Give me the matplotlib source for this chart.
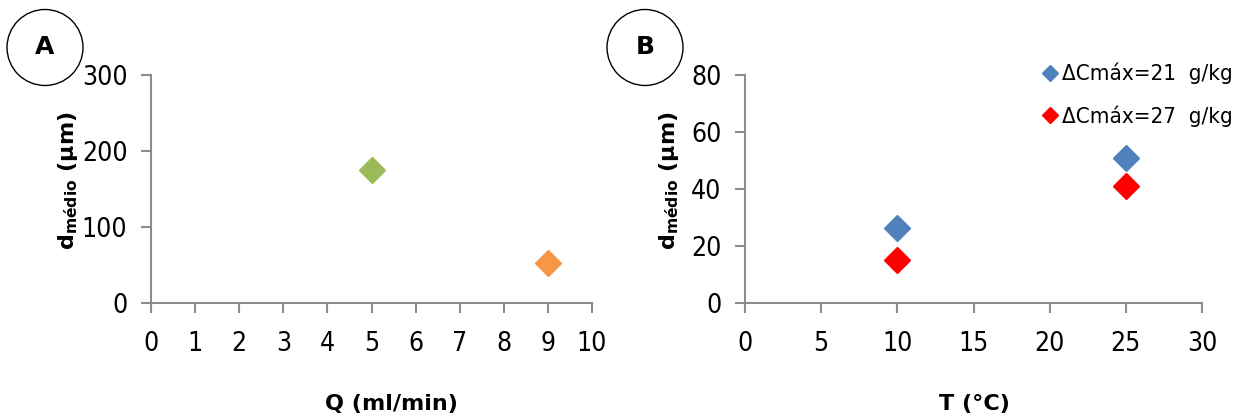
import matplotlib
matplotlib.use("Agg")
import matplotlib.pyplot as plt
from matplotlib.patches import Ellipse

# Data
qA = [5, 9]
dA = [175, 52]
colorsA = ["#9BBB59", "#F79646"]

tB = [10, 25]
d21 = [26.3, 50.8]
d27 = [15.2, 41.1]
labels = ["ΔCmáx=21  g/kg", "ΔCmáx=27  g/kg"]

xticksA = list(range(0, 11))
yticksA = [0, 100, 200, 300]
xticksB = [0, 5, 10, 15, 20, 25, 30]
yticksB = [0, 20, 40, 60, 80]

plt.rcParams['font.family'] = ['DejaVu Sans']
plt.rcParams['font.stretch'] = 'condensed'
gray = "#8C8C8C"

fig = plt.figure(figsize=(12.4, 4.19), dpi=100)
axA = fig.add_axes([151/1240, 1-303/419, (592-151)/1240, (303-75)/419])
axB = fig.add_axes([745/1240, 1-303/419, (1202-745)/1240, (303-75)/419])

def style(ax):
    for s in ['top', 'right']:
        ax.spines[s].set_visible(False)
    for s in ['left', 'bottom']:
        ax.spines[s].set_color(gray)
        ax.spines[s].set_linewidth(1.5)
    ax.tick_params(axis='both', direction='out', length=7, width=1.5, color=gray,
                   labelsize=19)
    ax.tick_params(axis='x', pad=13)
    ax.tick_params(axis='y', pad=10)

for x, y, c in zip(qA, dA, colorsA):
    axA.plot([x], [y], marker='D', ms=13, color=c, ls='none', clip_on=False)
axA.set_xlim(0, 10)
axA.set_ylim(0, 300)
axA.set_xticks(xticksA)
axA.set_yticks(yticksA)
style(axA)

axB.plot(tB, d21, marker='D', ms=13, color="#4F81BD", ls='none', label=labels[0])
axB.plot(tB, d27, marker='D', ms=13, color="#FF0000", ls='none', label=labels[1])
axB.set_xlim(0, 30)
axB.set_ylim(0, 80)
axB.set_xticks(xticksB)
axB.set_yticks(yticksB)
style(axB)

ylab = 'd$_{\\mathregular{médio}}$ (μm)'
for xc in (68, 669):
    fig.text(xc/1240, 1-181/419, ylab, rotation=90, ha='center', va='center',
             fontsize=16, fontweight='bold', fontstretch='normal')
fig.text(391/1240, 1-404/419, 'Q (ml/min)', ha='center', va='center',
         fontsize=16, fontweight='bold', fontstretch='normal')
fig.text(974/1240, 1-404/419, 'T (°C)', ha='center', va='center',
         fontsize=16, fontweight='bold', fontstretch='normal')

leg = axB.legend(loc='center left', bbox_to_anchor=((1044-745)/457, 1-(95-75)/228),
                 frameon=False, handlelength=0.55, handletextpad=0.25,
                 markerscale=0.6, labelspacing=0.95, borderpad=0, borderaxespad=0,
                 prop={'family': ['DejaVu Sans'], 'size': 16, 'stretch': 'condensed'})

for cx, txt in [(45, 'A'), (645, 'B')]:
    e = Ellipse((cx/1240, 1-47.5/419), 76/1240, 76/419, transform=fig.transFigure,
                fill=False, edgecolor='black', linewidth=1.0)
    fig.add_artist(e)
    fig.text(cx/1240, 1-47.5/419, txt, ha='center', va='center', fontsize=18,
             fontweight='bold', fontstretch='normal')

fig.savefig("out.png", dpi=100, facecolor='white')
